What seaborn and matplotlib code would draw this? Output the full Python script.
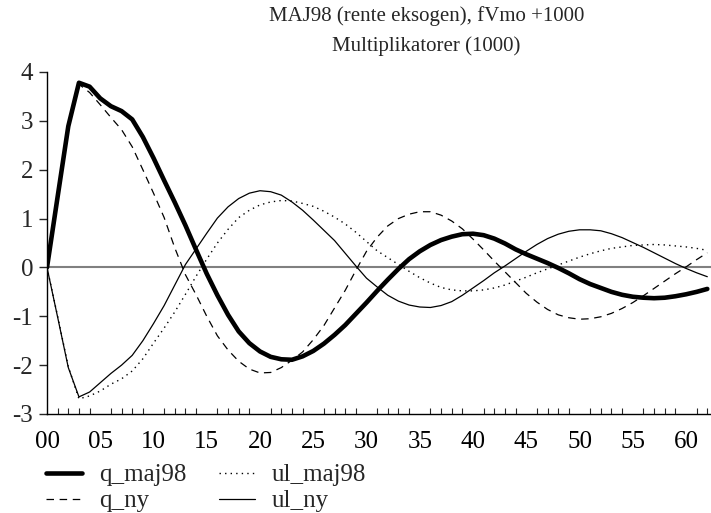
import numpy as np
import pandas as pd
import matplotlib
matplotlib.use("Agg")
import matplotlib.pyplot as plt
import seaborn as sns
from matplotlib.ticker import MultipleLocator, FuncFormatter

t = list(range(63))

q_maj98 = [0, 1.45, 2.89, 3.78, 3.70, 3.46, 3.30, 3.20, 3.03, 2.67, 2.24, 1.78, 1.33, 0.86, 0.36,
           -0.13, -0.57, -0.97, -1.31, -1.55, -1.72, -1.83, -1.88, -1.89, -1.82, -1.71, -1.56, -1.38,
           -1.18, -0.95, -0.72, -0.48, -0.25, -0.03, 0.17, 0.33, 0.46, 0.56, 0.63, 0.68, 0.69, 0.66,
           0.59, 0.49, 0.37, 0.27, 0.18, 0.09, -0.01, -0.12, -0.24, -0.34, -0.42, -0.50, -0.56,
           -0.60, -0.62, -0.63, -0.62, -0.59, -0.55, -0.50, -0.44]

q_ny = [0, 1.44, 2.88, 3.75, 3.58, 3.33, 3.07, 2.82, 2.47, 2.00, 1.52, 1.02, 0.40, -0.15, -0.56,
        -1.00, -1.40, -1.69, -1.92, -2.08, -2.16, -2.15, -2.05, -1.90, -1.73, -1.48, -1.19, -0.83,
        -0.47, -0.06, 0.33, 0.62, 0.85, 1.00, 1.09, 1.14, 1.14, 1.07, 0.95, 0.79, 0.58, 0.36, 0.13,
        -0.09, -0.31, -0.53, -0.71, -0.86, -0.97, -1.03, -1.06, -1.05, -1.01, -0.94, -0.84, -0.72,
        -0.58, -0.43, -0.28, -0.13, 0.01, 0.16, 0.30]

ul_maj98 = [0, -1.00, -2.03, -2.69, -2.63, -2.53, -2.39, -2.28, -2.12, -1.87, -1.55, -1.24, -0.91,
            -0.55, -0.18, 0.17, 0.50, 0.78, 1.02, 1.17, 1.28, 1.34, 1.37, 1.36, 1.31, 1.25, 1.15,
            1.03, 0.89, 0.72, 0.53, 0.34, 0.20, 0.06, -0.08, -0.21, -0.32, -0.41, -0.46, -0.48,
            -0.48, -0.46, -0.42, -0.36, -0.28, -0.20, -0.11, -0.03, 0.05, 0.13, 0.21, 0.28, 0.34,
            0.39, 0.42, 0.45, 0.46, 0.47, 0.46, 0.44, 0.42, 0.39, 0.35]

ul_ny = [0, -1.02, -2.05, -2.65, -2.55, -2.36, -2.17, -2.00, -1.80, -1.50, -1.15, -0.78, -0.36,
         0.06, 0.38, 0.70, 1.01, 1.24, 1.41, 1.52, 1.57, 1.55, 1.48, 1.34, 1.17, 0.97, 0.76, 0.55,
         0.29, 0.03, -0.22, -0.40, -0.57, -0.69, -0.77, -0.81, -0.82, -0.78, -0.70, -0.57, -0.42,
         -0.27, -0.11, 0.03, 0.18, 0.33, 0.47, 0.59, 0.68, 0.74, 0.77, 0.77, 0.75, 0.69, 0.61,
         0.51, 0.41, 0.30, 0.19, 0.08, -0.02, -0.11, -0.19]

title1 = "MAJ98 (rente eksogen), fVmo +1000"
title2 = "Multiplikatorer (1000)"

sns.set_style("white")
plt.rcParams["font.family"] = ["Liberation Serif", "DejaVu Serif"]
plt.rcParams["axes.unicode_minus"] = False

fig = plt.figure(figsize=(7.11, 5.13), dpi=100)
ax = fig.add_axes([47 / 711, 1 - 414 / 513, 663.5 / 711, (414 - 72) / 513])

ax.axhline(0, color="#808080", lw=1.5, zorder=1)

styles = [
    ("q_maj98", q_maj98, dict(lw=3.3, ls="-")),
    ("q_ny", q_ny, dict(lw=0.9, ls=(0, (6, 4.5)))),
    ("ul_maj98", ul_maj98, dict(lw=1.0, ls=(0, (1, 3)))),
    ("ul_ny", ul_ny, dict(lw=0.9, ls="-")),
]
for name, vals, st in styles:
    sns.lineplot(x=t, y=vals, ax=ax, color="black", label=name, zorder=3, **st)

ax.set_xlim(0, 62.3)
ax.set_ylim(-3, 4)
ax.xaxis.set_major_locator(MultipleLocator(5))
ax.xaxis.set_minor_locator(MultipleLocator(1))
ax.xaxis.set_major_formatter(FuncFormatter(lambda v, p: f"{int(round(v)):02d}"))
ax.yaxis.set_major_locator(MultipleLocator(1))
ax.tick_params(axis="x", which="major", direction="in", length=7, width=1, labelsize=18, pad=12, colors="black")
ax.tick_params(axis="x", which="minor", direction="in", length=4, width=0.8, bottom=True)
ax.tick_params(axis="y", which="major", direction="out", length=6, width=1, labelsize=18, pad=4, left=True)
for s in ["top", "right"]:
    ax.spines[s].set_visible(False)
for s in ["left", "bottom"]:
    ax.spines[s].set_color("black")
    ax.spines[s].set_linewidth(1.0)
ax.set_xlabel("")
ax.set_ylabel("")

fig.text(0.6, 1 - 16 / 513, title1, ha="center", va="center", fontsize=15)
fig.text(0.6, 1 - 46 / 513, title2, ha="center", va="center", fontsize=15)

handles, labels = ax.get_legend_handles_labels()
if ax.legend_:
    ax.legend_.remove()
fig.legend(handles, labels, ncol=2, loc="upper left", bbox_to_anchor=(46 / 711, 1 - 464 / 513),
           frameon=False, fontsize=18, handlelength=1.45, handletextpad=0.68, columnspacing=1.28,
           labelspacing=0.14, borderpad=0, borderaxespad=0)

fig.savefig("out.png", dpi=100)
